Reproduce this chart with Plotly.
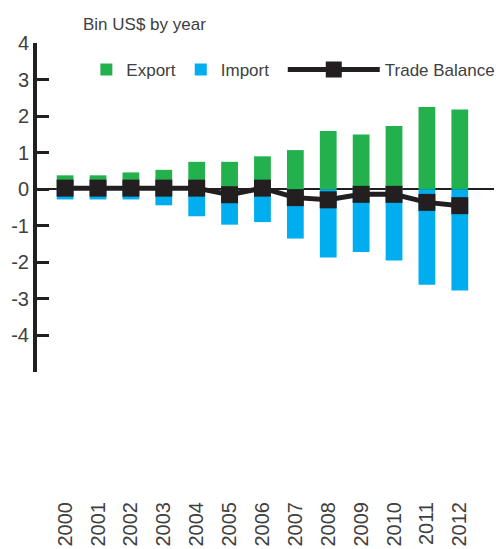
import plotly.graph_objects as go

YEARS = ["2000", "2001", "2002", "2003", "2004", "2005", "2006",
         "2007", "2008", "2009", "2010", "2011", "2012"]
EXPORT = [0.38, 0.38, 0.46, 0.53, 0.75, 0.75, 0.90, 1.07, 1.59, 1.50, 1.73, 2.25, 2.18]
IMPORT = [-0.28, -0.28, -0.28, -0.44, -0.74, -0.97, -0.90, -1.35, -1.87, -1.72, -1.95, -2.61, -2.77]
BALANCE = [0.03, 0.03, 0.03, 0.03, 0.03, -0.15, 0.03, -0.23, -0.29, -0.14, -0.14, -0.36, -0.45]

Y_TICKS = [-5, -4, -3, -2, -1, 0, 1, 2, 3, 4]
Y_TICK_TEXT = ["", "-4", "-3", "-2", "-1", "0", "1", "2", "3", "4"]

GREEN = "#22b14c"
BLUE = "#00aeef"
INK = "#231f20"
TEXT = "#404040"
FONT = "Liberation Sans, Arial, sans-serif"

# plot area in page pixels: x 37..500, y 43..497 (y axis itself stops at 372)
PLOT_W, PLOT_H = 463, 454


def px_x(x):
    return (x - 37) / PLOT_W


def px_y(y):
    return 1 - (y - 43) / PLOT_H


fig = go.Figure()
fig.add_trace(go.Bar(x=YEARS, y=EXPORT, name="Export", marker=dict(color=GREEN, line=dict(width=0)),
                     width=0.51))
fig.add_trace(go.Bar(x=YEARS, y=IMPORT, name="Import", marker=dict(color=BLUE, line=dict(width=0)),
                     width=0.51))
fig.add_trace(go.Scatter(
    x=YEARS, y=BALANCE, name="Trade Balance", mode="lines+markers", legend="legend2",
    line=dict(color=INK, width=5),
    marker=dict(symbol="square", size=17, color=INK),
))

legend_common = dict(orientation="h", xanchor="left", yanchor="middle", y=px_y(70),
                     font=dict(size=17, color=TEXT), bgcolor="rgba(0,0,0,0)")
fig.update_layout(
    width=500, height=549,
    margin=dict(l=37, r=0, t=43, b=52),
    paper_bgcolor="white", plot_bgcolor="white",
    barmode="overlay",
    font=dict(family=FONT, color=TEXT),
    showlegend=True,
    legend=dict(x=px_x(87), itemwidth=30, **legend_common),
    # separate legend so the balance line swatch can be as long as in the original
    legend2=dict(x=px_x(286), itemwidth=92, **legend_common),
    annotations=[dict(text="Bin US$ by year", xref="paper", yref="paper",
                      x=px_x(82), y=px_y(25), xanchor="left", yanchor="middle",
                      showarrow=False, font=dict(size=17, color=TEXT))],
)
fig.update_xaxes(
    type="category", range=[-0.855, 13.04], anchor="free", position=0,
    showline=False, showgrid=False, zeroline=False, ticks="",
    tickangle=-90, tickfont=dict(size=20, color=TEXT),
)
fig.update_yaxes(
    range=[-5, 4], domain=[(497 - 372) / PLOT_H, 1],
    tickvals=Y_TICKS, ticktext=Y_TICK_TEXT,
    showline=True, linewidth=4, linecolor=INK,
    ticks="inside", ticklen=12, tickwidth=3, tickcolor=INK,
    showgrid=False, zeroline=True, zerolinecolor=INK, zerolinewidth=2,
    tickfont=dict(size=20, color=TEXT),
)

# the page body has a default 8px margin; drop it so the figure sits at the corner
fig.write_html("out.html", config={"displayModeBar": False},
               post_script="document.body.style.margin='0';")
